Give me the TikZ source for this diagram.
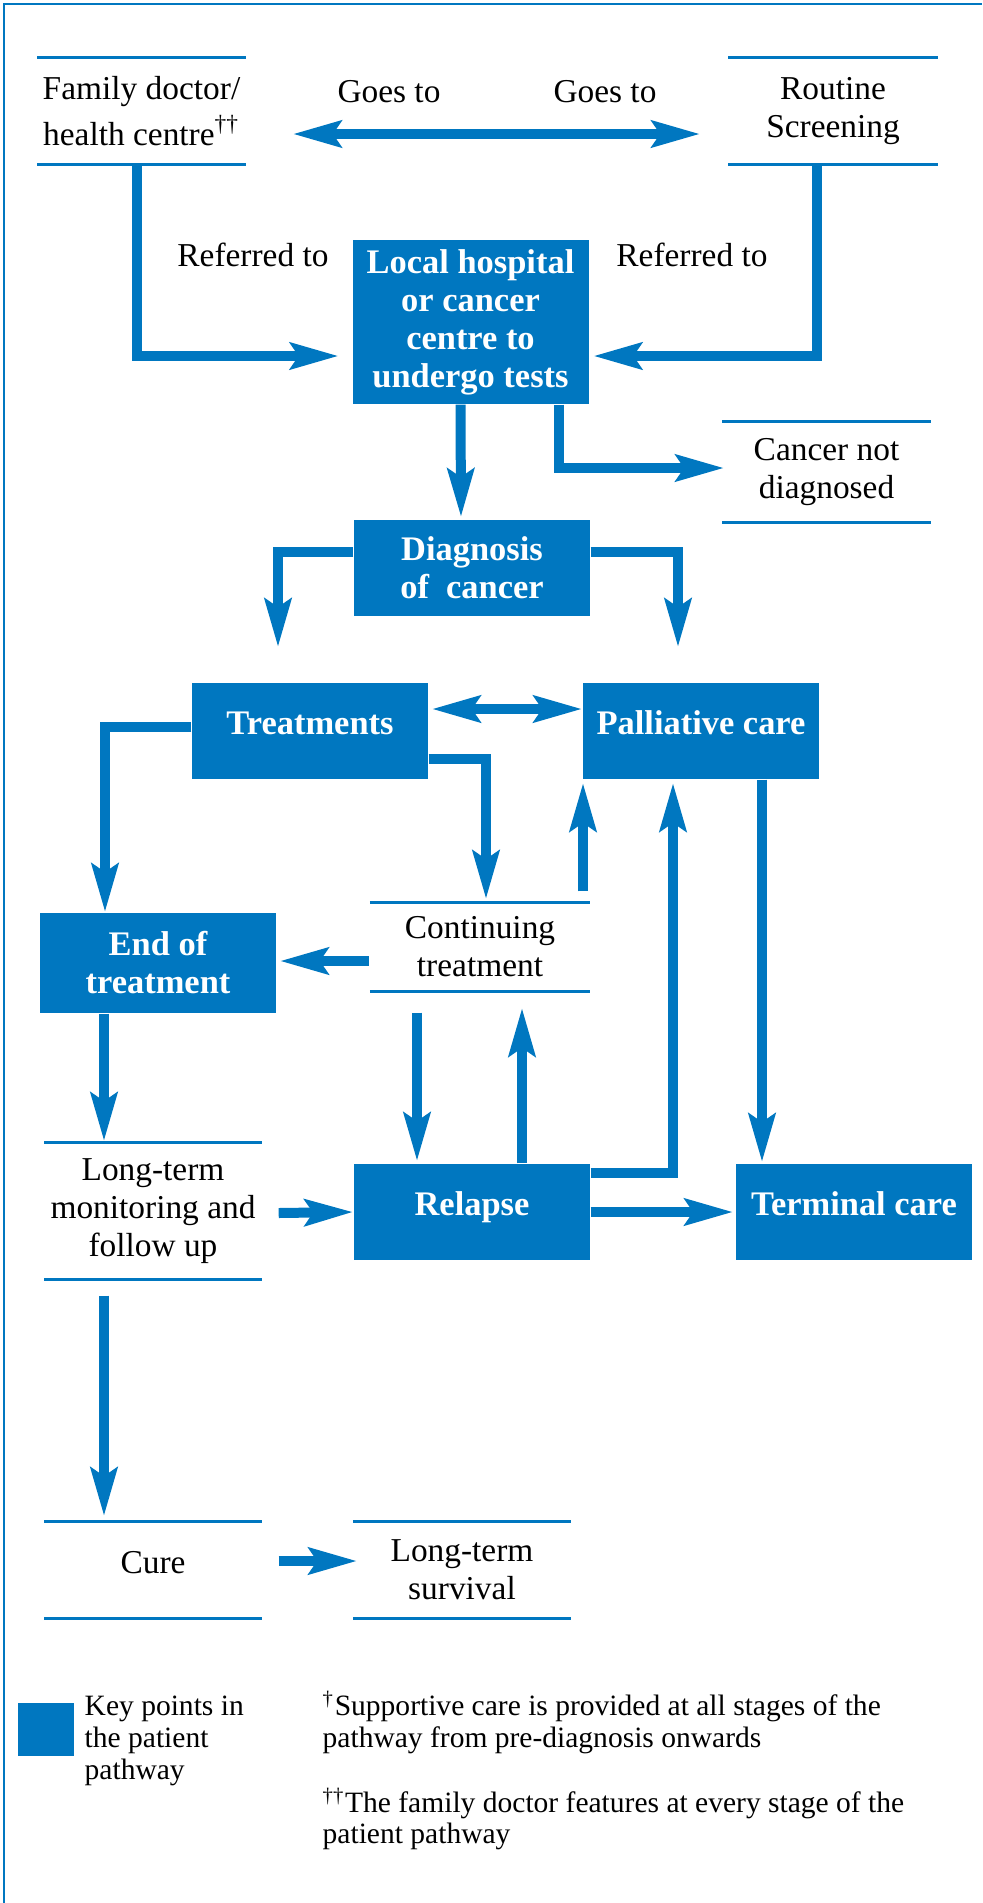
\documentclass[tikz,border=0pt]{standalone}
\usepackage{fontspec}
\setmainfont{Liberation Serif}
\usetikzlibrary{arrows.meta,calc}
\definecolor{pathblue}{RGB}{0,119,192}
\tikzset{
  keybox/.style={fill=pathblue, text=white, font=\fontsize{9.8}{10.8}\selectfont\bfseries,
    align=center, inner sep=0pt, minimum width=23.6mm, minimum height=9.6mm},
  oneline/.style={text height=2.4mm, text depth=1.8mm},
  boxrule/.style={draw=pathblue, line width=0.8pt},
  openbox/.style={align=center, inner sep=0pt,
    append after command={(\tikzlastnode.north west) edge[boxrule] (\tikzlastnode.north east)
      (\tikzlastnode.south west) edge[boxrule] (\tikzlastnode.south east)}},
  bigtip/.tip={Stealth[length=4.8mm, width=2.6mm, inset=0.8mm]},
  flow/.style={draw=pathblue, line width=1mm, -bigtip},
  dbl/.style={draw=pathblue, line width=1mm, bigtip-bigtip},
  small/.style={font=\fontsize{8.4}{9}\selectfont, align=left, anchor=west, inner sep=0pt}
}
\begin{document}
\begin{tikzpicture}[x=0.1mm, y=-0.1mm, font=\fontsize{9.5}{10.8}\selectfont]
\useasboundingbox (0,0) rectangle (982,1903);
\draw[pathblue, line width=0.6pt] (4,1903) -- (4,4) -- (982,4);

\node[openbox, minimum width=20.7mm, minimum height=10.6mm] (fam) at (141.5,111)
  {Family doctor/\\[0.8mm]health centre\textsuperscript{\dag\dag}};
\node[openbox, minimum width=20.8mm, minimum height=10.6mm] (screen) at (833,111)
  {Routine\\Screening};
\node (goesl) at (389,92) {Goes to};
\node (goesr) at (605,92) {Goes to};
\node (refl) at (253,255) {Referred to};
\node (refr) at (692,255) {Referred to};
\node[keybox, minimum height=16.4mm] (local) at (470.5,322)
  {Local hospital\\or cancer\\centre to\\undergo tests};
\node[openbox, minimum width=20.7mm, minimum height=10mm] (notdiag) at (826.5,472)
  {Cancer not\\diagnosed};
\node[keybox] (diag) at (472,568) {Diagnosis\\of\ \ cancer};
\node[keybox, oneline] (treat) at (310,731) {Treatments};
\node[keybox, oneline] (pall) at (701,731) {Palliative care};
\node[keybox, minimum height=10mm] (endt) at (158,963) {End of\\treatment};
\node[openbox, minimum width=21.9mm, minimum height=8.8mm] (cont) at (480,947)
  {Continuing\\treatment};
\node[keybox, oneline] (relapse) at (472,1212) {Relapse};
\node[keybox, oneline] (term) at (854,1212) {Terminal care};
\node[openbox, minimum width=21.6mm, minimum height=13.6mm] (monit) at (153,1211)
  {Long-term\\monitoring and\\follow up};
\node[openbox, oneline, minimum width=21.6mm, minimum height=9.6mm] (cure) at (153,1570) {Cure};
\node[openbox, minimum width=21.6mm, minimum height=9.6mm] (surv) at (462,1570)
  {Long-term\\survival};

\node[fill=pathblue, inner sep=0pt, minimum width=5.6mm, minimum height=5.3mm] (keysq) at (46,1729.5) {};
\node[small] (keytxt) at (84,1741) {Key points in\\the patient\\pathway};
\node[small] (note1) at (322,1722.5)
  {\textsuperscript{\dag}Supportive care is provided at all stages of the\\pathway from pre-diagnosis onwards};
\node[small] (note2) at (322,1819)
  {\textsuperscript{\dag\dag}The family doctor features at every stage of the\\patient pathway};

\draw[dbl] ($(fam.east)+(47,23)$) -- ($(screen.west)+(-28,23)$);
\draw[flow] ($(fam.south)+(-5,0)$) |- ($(local.west)+(-13,34)$);
\draw[flow] ($(screen.south)+(-16,0)$) |- ($(local.east)+(4,34)$);
\draw[flow] ($(local.south)+(-10,0)$) -- ($(diag.north)+(-11,-2)$);
\draw[flow] ($(local.south)+(88,0)$) |- ($(notdiag.west)+(2,-4)$);
\draw[flow] ($(diag.west)+(0,-16)$) -| ($(treat.north)+(-32,-35)$);
\draw[flow] ($(diag.east)+(0,-16)$) -| ($(pall.north)+(-23,-35)$);
\draw[dbl] ($(treat.east)+(3,-22)$) -- ($(pall.west)+(0,-22)$);
\draw[flow] ($(treat.west)+(0,-4)$) -| ($(endt.north)+(-53,0)$);
\draw[flow] ($(treat.east)+(0,28)$) -| ($(cont.north)+(6,-3)$);
\draw[flow] ($(cont.north)+(103,-11)$) -- ($(pall.south)+(-118,3)$);
\draw[flow] ($(cont.west)+(-1,14)$) -- ($(endt.east)+(3,-2)$);
\draw[flow] ($(cont.south)+(-63,21)$) -- ($(relapse.north)+(-55,-2)$);
\draw[flow] ($(relapse.north)+(50,0)$) -- ($(cont.south)+(42,16)$);
\draw[flow] ($(relapse.east)+(0,-39)$) -| ($(pall.south)+(-28,3)$);
\draw[flow] ($(pall.south)+(61,0)$) -- ($(term.north)+(-92,-1)$);
\draw[flow] (relapse.east) -- ($(term.west)+(-2,0)$);
\draw[flow] ($(endt.south)+(-54,0)$) -- ($(monit.north)+(-49,-1)$);
\draw[flow] ($(monit.east)+(17,2)$) -- (relapse.west);
\draw[flow] ($(monit.south)+(-49,16)$) -- ($(cure.north)+(-49,-5)$);
\draw[flow] ($(cure.east)+(17,-9)$) -- ($(surv.west)+(4,-9)$);
\end{tikzpicture}
\end{document}
